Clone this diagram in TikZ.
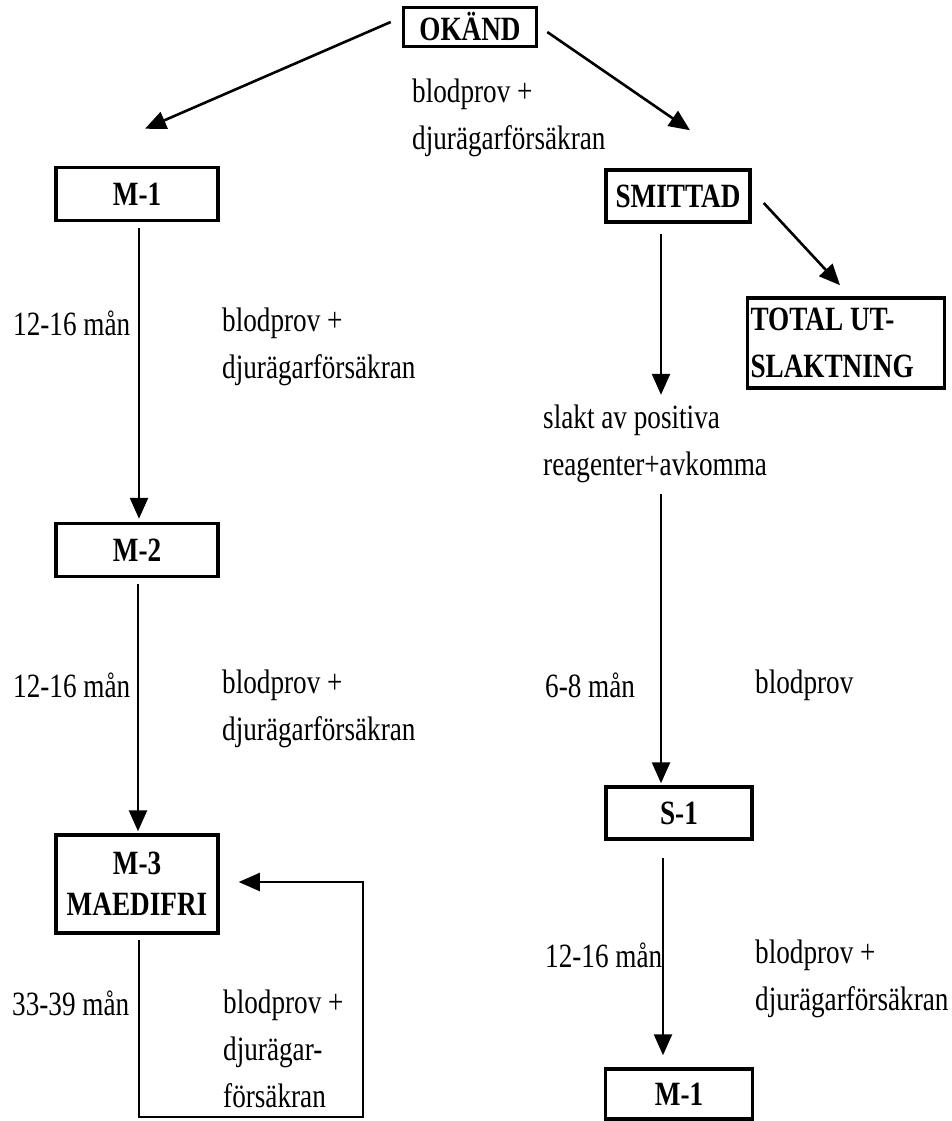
\documentclass[tikz,border=0pt]{standalone}
\usepackage{fontspec}
\setmainfont{Liberation Serif}[FakeStretch=0.8]
\usetikzlibrary{arrows.meta}
\newcommand{\dfont}{\fontsize{34}{47}\selectfont}
\tikzset{
  box/.style={draw, line width=3.5pt, font=\dfont\bfseries, inner sep=0pt},
  lbl/.style={anchor=west, align=left, inner sep=0pt},
  flow/.style={line width=2.6pt, -{Triangle[length=21pt,width=18pt]}},
}

\begin{document}
\begin{tikzpicture}[x=1pt, y=-1pt, every node/.style={font=\dfont}]
  \useasboundingbox (0,0) rectangle (952,1121);
  % boxes
  \node[box, minimum width=133pt, minimum height=39pt] (okand) at (470,27) {OKÄND};
  \node[box, minimum width=162pt, minimum height=53pt] (m1) at (137,194) {M-1};
  \node[box, minimum width=144pt, minimum height=52pt] (smittad) at (678,196) {SMITTAD};
  \node[box, minimum width=197pt, minimum height=90pt, text width=191pt, align=flush left, inner xsep=3pt] (total) at (846,343) {TOTAL UT-\\SLAKTNING};
  \node[box, minimum width=162pt, minimum height=53pt] (m2) at (137,550) {M-2};
  \node[box, minimum width=162pt, minimum height=98pt, align=center] (m3) at (137,884) {M-3\\[-6pt]MAEDIFRI};
  \node[box, minimum width=146pt, minimum height=52pt] (s1) at (679,813) {S-1};
  \node[box, minimum width=147pt, minimum height=50pt] (m1b) at (679,1094) {M-1};
  % texts
  \node[lbl] (lab0) at (412,118) {blodprov +\\djurägarförsäkran};
  \node[lbl] (t1) at (13,323) {12-16 mån};
  \node[lbl] (lab1) at (222,347) {blodprov +\\djurägarförsäkran};
  \node[lbl] (t2) at (13,685) {12-16 mån};
  \node[lbl] (lab2) at (222,709) {blodprov +\\djurägarförsäkran};
  \node[lbl] (t3) at (12,1003) {33-39 mån};
  \node[lbl] (lab3) at (223,1049) {blodprov +\\djurägar-\\försäkran};
  \node[lbl] (slakt) at (543,444) {slakt av positiva\\reagenter+avkomma};
  \node[lbl] (t4) at (545,685) {6-8 mån};
  \node[lbl] (lab4) at (755,685) {blodprov};
  \node[lbl] (t5) at (545,955) {12-16 mån};
  \node[lbl] (lab5) at (755,979) {blodprov +\\djurägarförsäkran};
  % arrows
  \draw[flow] ([xshift=-11pt,yshift=5pt]okand.west) -- ([xshift=8pt,yshift=37pt]m1.north);
  \draw[flow] ([xshift=9pt,yshift=-5pt]okand.east) -- ([xshift=12pt,yshift=38pt]smittad.north);
  \draw[flow] ([xshift=12pt,yshift=-7pt]smittad.east) -- ([xshift=-6pt,yshift=11pt]total.north);
  \draw[flow, shorten <=6pt, shorten >=3pt] ([xshift=2pt]m1.south) -- ([xshift=2pt]m2.north);
  \draw[flow, shorten <=6pt, shorten >=2pt] ([xshift=1pt]m2.south) -- ([xshift=1pt]m3.north);
  \draw[flow, shorten <=10pt, shorten >=10pt] ([xshift=-17pt]smittad.south) -- ([xshift=-17pt]smittad.south |- slakt.north);
  \draw[flow, shorten <=11pt, shorten >=2pt] ([xshift=-18pt]s1.north |- slakt.south) -- ([xshift=-18pt]s1.north);
  \draw[flow, shorten <=17pt, shorten >=12pt] ([xshift=-16pt]s1.south) -- ([xshift=-16pt]m1b.north);
  % back to M-3
  \coordinate (loop) at (363,1117);
  \draw[flow, line width=2pt] ([xshift=2pt,yshift=-5pt]m3.south) |- (loop) |- ([xshift=19pt,yshift=2pt]m3.east);
\end{tikzpicture}
\end{document}
